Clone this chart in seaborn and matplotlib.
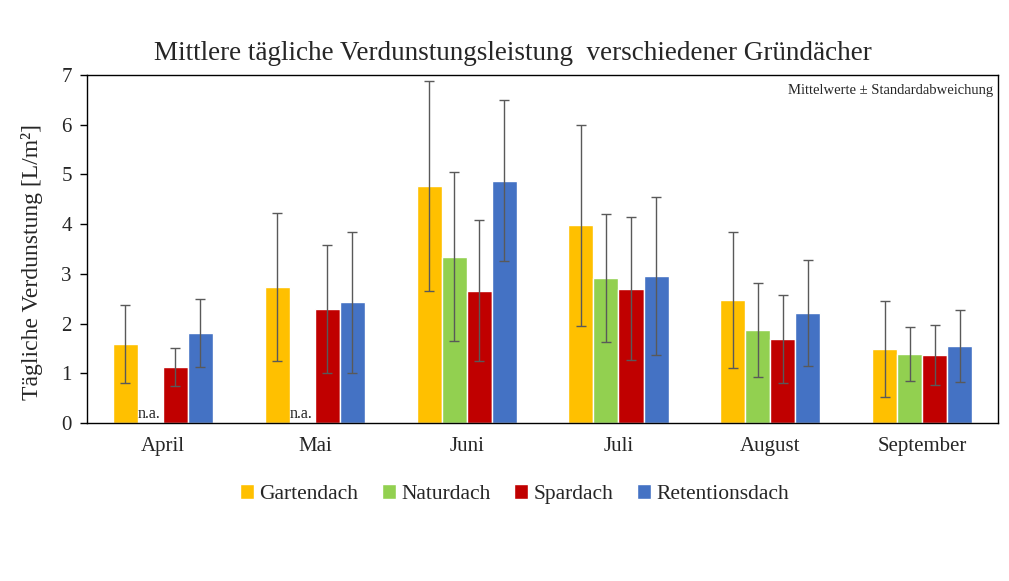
import numpy as np
import pandas as pd
import matplotlib
matplotlib.use("Agg")
import matplotlib.pyplot as plt
import seaborn as sns

months = ["April", "Mai", "Juni", "Juli", "August", "September"]
roofs = ["Gartendach", "Naturdach", "Spardach", "Retentionsdach"]
colors = ["#FFC000", "#92D050", "#C00000", "#4472C4"]

# Mittelwerte [L/m²], NaN = nicht verfügbar
garten = [1.59, 2.74, 4.77, 3.98, 2.47, 1.49]
natur = [np.nan, np.nan, 3.34, 2.92, 1.87, 1.39]
spar = [1.13, 2.29, 2.66, 2.70, 1.69, 1.37]
retention = [1.81, 2.43, 4.87, 2.96, 2.21, 1.55]

# Standardabweichungen
garten_sd = [0.79, 1.49, 2.11, 2.02, 1.37, 0.97]
natur_sd = [np.nan, np.nan, 1.70, 1.29, 0.95, 0.54]
spar_sd = [0.38, 1.29, 1.42, 1.44, 0.88, 0.61]
retention_sd = [0.68, 1.42, 1.62, 1.59, 1.07, 0.73]

means = [garten, natur, spar, retention]
sds = [garten_sd, natur_sd, spar_sd, retention_sd]

rows = []
for roof, m, s in zip(roofs, means, sds):
    for month, v, e in zip(months, m, s):
        rows.append({"Monat": month, "Dach": roof, "Wert": v, "SD": e})
df = pd.DataFrame(rows)

sns.set_theme(style="white")
plt.rcParams['font.family'] = ['Liberation Serif', 'DejaVu Serif']

fig = plt.figure(figsize=(10.09, 5.81), dpi=100)
ax = fig.add_axes([0.0862, 0.272, 0.903, 0.599])

bar_width = 0.66
sns.barplot(data=df.dropna(subset=["Wert"]), x="Monat", y="Wert", hue="Dach",
            order=months, hue_order=roofs, palette=colors, width=bar_width,
            gap=0, errorbar=None, saturation=1, ax=ax, legend=True)

# Fehlerbalken an den Balkenmitten
bar_conts = list(ax.containers)
for j, cont in enumerate(bar_conts):
    for bar in cont:
        xc = bar.get_x() + bar.get_width() / 2
        i = int(round(xc))
        ax.errorbar(xc, means[j][i], yerr=sds[j][i], fmt="none",
                    ecolor="#595959", elinewidth=1, capsize=3.3, capthick=1)

# n.a. für fehlende Werte
slot = bar_width / len(roofs)
for j, m in enumerate(means):
    for i, v in enumerate(m):
        if np.isnan(v):
            ax.text(i - bar_width / 2 + j * slot, 0.01, "n.a.", fontsize=11.5,
                    ha="left", va="bottom", color="#222222")

ax.set_ylim(0, 7)
ax.set_xlim(-0.5, len(months) - 0.5)
ax.set_yticks(range(0, 8))
ax.tick_params(axis="y", labelsize=15, length=5, width=1, color="black",
               direction="out", left=True, pad=6)
ax.tick_params(axis="x", labelsize=15, length=0, pad=10)
for sp in ax.spines.values():
    sp.set_visible(True)
    sp.set_color("black")
    sp.set_linewidth(1)

ax.set_xlabel("")
ax.set_ylabel("Tägliche Verdunstung [L/m²]", fontsize=17)
ax.yaxis.set_label_coords(-0.048, 0.463)
fig.text(0.508, 0.908, "Mittlere tägliche Verdunstungsleistung  verschiedener Gründächer",
         ha="center", va="center", fontsize=19.5)
ax.text(0.995, 0.975, "Mittelwerte ± Standardabweichung", transform=ax.transAxes,
        ha="right", va="top", fontsize=10.5)

ax.legend(loc="center", bbox_to_anchor=(0.469, -0.205), ncol=4, frameon=False,
          fontsize=15.5, handlelength=0.65, handleheight=0.65, handletextpad=0.25,
          columnspacing=1.1)

fig.savefig("out.png", dpi=100)
